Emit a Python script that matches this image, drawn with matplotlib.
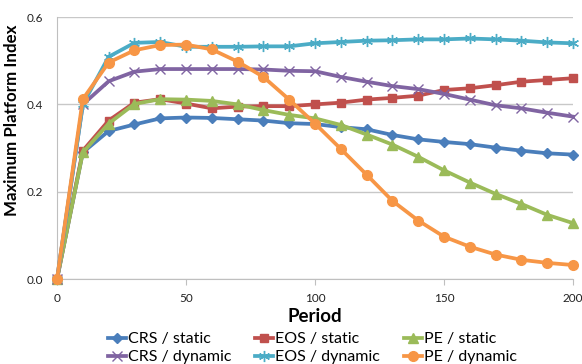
import matplotlib
matplotlib.use("Agg")
import matplotlib.pyplot as plt

plt.rcParams['font.family'] = ['Lato', 'DejaVu Sans']

periods = [0, 10, 20, 30, 40, 50, 60, 70, 80, 90, 100, 110, 120, 130, 140, 150, 160, 170, 180, 190, 200]

crs_static = [0.0, 0.29, 0.339, 0.354, 0.368, 0.370, 0.369, 0.366, 0.363, 0.357, 0.355, 0.348, 0.343,
              0.330, 0.320, 0.314, 0.309, 0.301, 0.294, 0.288, 0.285]
eos_static = [0.0, 0.294, 0.363, 0.404, 0.412, 0.402, 0.391, 0.395, 0.396, 0.396, 0.400, 0.404, 0.411,
              0.415, 0.420, 0.433, 0.437, 0.444, 0.452, 0.456, 0.460]
pe_static = [0.0, 0.29, 0.356, 0.401, 0.412, 0.411, 0.408, 0.400, 0.387, 0.376, 0.368, 0.353, 0.331,
             0.308, 0.280, 0.249, 0.221, 0.195, 0.172, 0.147, 0.128]
crs_dynamic = [0.0, 0.40, 0.453, 0.475, 0.481, 0.481, 0.481, 0.481, 0.480, 0.477, 0.476, 0.463, 0.452,
               0.442, 0.435, 0.424, 0.411, 0.398, 0.391, 0.381, 0.372]
eos_dynamic = [0.0, 0.40, 0.509, 0.541, 0.543, 0.532, 0.532, 0.532, 0.533, 0.533, 0.540, 0.543, 0.546,
               0.547, 0.549, 0.549, 0.551, 0.549, 0.546, 0.542, 0.540]
pe_dynamic = [0.0, 0.412, 0.496, 0.524, 0.536, 0.537, 0.526, 0.498, 0.463, 0.411, 0.356, 0.298, 0.239,
              0.179, 0.134, 0.097, 0.074, 0.056, 0.044, 0.037, 0.032]

x_ticks = [0, 50, 100, 150, 200]
y_ticks = [0.0, 0.2, 0.4, 0.6]
y_tick_labels = ["0.0", "0.2", "0.4", "0.6"]

fig = plt.figure(figsize=(5.82, 3.64), dpi=100)
ax = fig.add_axes([0.098, 0.2335, 0.8865, 0.7195])

series = [
    ("CRS / static", crs_static, "#4A7EBB", "D", 5, dict()),
    ("EOS / static", eos_static, "#C0504D", "s", 6, dict()),
    ("PE / static", pe_static, "#9BBB59", "^", 7, dict()),
    ("CRS / dynamic", crs_dynamic, "#8064A2", "x", 7, dict(markeredgewidth=1.0)),
    ("EOS / dynamic", eos_dynamic, "#4BACC6", (6, 2, 0), 8, dict(markeredgewidth=1.0)),
    ("PE / dynamic", pe_dynamic, "#F79646", "o", 7, dict()),
]

handles = {}
for name, vals, col, mk, ms, kw in series:
    h, = ax.plot(periods, vals, color=col, lw=2.7, marker=mk, markersize=ms,
                 markerfacecolor=col, markeredgecolor=col, clip_on=False, label=name,
                 zorder=3, **kw)
    handles[name] = h

ax.set_xlim(0, 200)
ax.set_ylim(0, 0.6)
ax.set_xticks(x_ticks)
ax.set_yticks(y_ticks)
ax.set_yticklabels(y_tick_labels)
ax.tick_params(axis='x', length=4, color='#BFBFBF', labelsize=8.5, pad=6, labelcolor='#222222')
ax.tick_params(axis='y', length=0, labelsize=8.5, pad=10, labelcolor='#222222')
ax.grid(axis='y', color='#C8C8C8', lw=1)
for s in ['top', 'right']:
    ax.spines[s].set_visible(False)
ax.spines['left'].set_color('#BFBFBF')
ax.spines['bottom'].set_color('#BFBFBF')

ax.set_ylabel("Maximum Platform Index", fontsize=12.2, fontweight='bold')
ax.yaxis.set_label_coords(-0.072, 0.607)
ax.set_xlabel("Period", fontsize=13.5, fontweight='bold', labelpad=3)

order = ["CRS / static", "CRS / dynamic", "EOS / static", "EOS / dynamic", "PE / static", "PE / dynamic"]
fig.legend([handles[n] for n in order], order, ncol=3, loc='upper left',
           bbox_to_anchor=(0.185, 0.088), frameon=False, fontsize=11.5,
           handlelength=1.15, handletextpad=0.1, columnspacing=1.5, labelspacing=0.25,
           borderaxespad=0, borderpad=0)

fig.savefig("out.png", dpi=100)
